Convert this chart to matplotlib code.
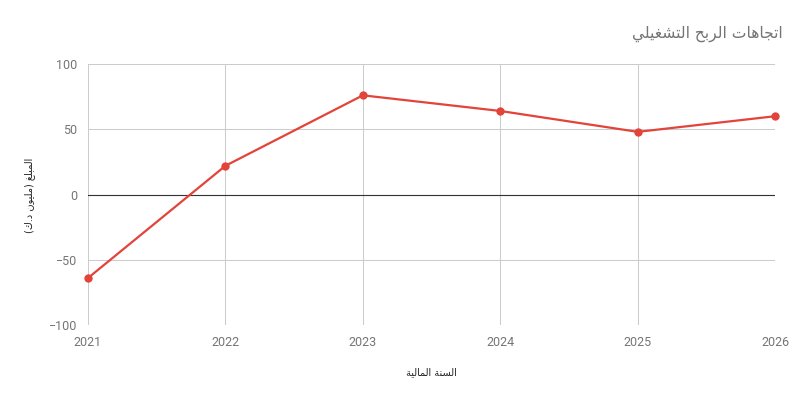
import matplotlib
matplotlib.use("Agg")
import matplotlib.pyplot as plt

years = [2021, 2022, 2023, 2024, 2025, 2026]
profit = [-64, 22, 76, 64, 48, 60]
y_ticks = [-100, -50, 0, 50, 100]
title_text = "اتجاهات الربح التشغيلي"
xlabel_text = "السنة المالية"
ylabel_text = "المبلغ (مليون د.ك)"

# --- minimal Arabic shaping (presentation forms) ---
DUAL = {
    'ب': 0xFE8F, 'ت': 0xFE95, 'ث': 0xFE99, 'ج': 0xFE9D, 'ح': 0xFEA1, 'خ': 0xFEA5,
    'س': 0xFEB1, 'ش': 0xFEB5, 'ص': 0xFEB9, 'ض': 0xFEBD, 'ط': 0xFEC1, 'ظ': 0xFEC5,
    'ع': 0xFEC9, 'غ': 0xFECD, 'ف': 0xFED1, 'ق': 0xFED5, 'ك': 0xFED9, 'ل': 0xFEDD,
    'م': 0xFEE1, 'ن': 0xFEE5, 'ه': 0xFEE9, 'ي': 0xFEF1,
}
RIGHT = {
    'ا': 0xFE8D, 'أ': 0xFE83, 'إ': 0xFE87, 'آ': 0xFE81, 'ة': 0xFE93, 'د': 0xFEA9,
    'ذ': 0xFEAB, 'ر': 0xFEAD, 'ز': 0xFEAF, 'و': 0xFEED, 'ى': 0xFEEF,
}
LAMALEF = {'ا': 0xFEFB, 'أ': 0xFEF7, 'إ': 0xFEF9, 'آ': 0xFEF5}


def is_ar(c):
    return c in DUAL or c in RIGHT


def shape(text):
    out = []
    i = 0
    n = len(text)
    while i < n:
        c = text[i]
        if not is_ar(c):
            out.append(c)
            i += 1
            continue
        prev_join = i > 0 and text[i - 1] in DUAL
        if c == 'ل' and i + 1 < n and text[i + 1] in LAMALEF:
            base = LAMALEF[text[i + 1]]
            out.append(chr(base + (1 if prev_join else 0)))
            i += 2
            continue
        next_join = c in DUAL and i + 1 < n and is_ar(text[i + 1])
        if c in DUAL:
            b = DUAL[c]
            if prev_join and next_join:
                g = b + 3
            elif prev_join:
                g = b + 1
            elif next_join:
                g = b + 2
            else:
                g = b
        else:
            b = RIGHT[c]
            g = b + 1 if prev_join else b
        out.append(chr(g))
        i += 1
    vis = out[::-1]
    swap = {'(': ')', ')': '('}
    return ''.join(swap.get(ch, ch) for ch in vis)


plt.rcParams['font.family'] = ['Roboto', 'DejaVu Sans']

fig = plt.figure(figsize=(8, 4), dpi=100)
ax = fig.add_axes([0.11, 0.1875, 0.859, 0.6525])

line_color = '#e2443a'
grid_color = '#cccccc'
text_color = '#757575'

ax.plot(years, profit, color=line_color, lw=1.6, marker='o', ms=6,
        markeredgewidth=0, zorder=3, clip_on=False)
ax.axhline(0, color='#333333', lw=0.8, zorder=2)

ax.set_xlim(years[0], years[-1])
ax.set_ylim(-100, 100)
ax.set_yticks(y_ticks)
ax.set_xticks(years)
ax.set_xticklabels([str(y) for y in years])
ax.grid(True, color=grid_color, lw=0.75, zorder=1)
for s in ax.spines.values():
    s.set_visible(False)
ax.tick_params(length=0, colors=text_color, labelsize=9, pad=8)
ax.tick_params(axis='x', pad=8)

fig.text(0.978, 0.915, shape(title_text), ha='right', va='center',
         fontsize=11.2, color=text_color, family=['DejaVu Sans'])
fig.text(0.539, 0.07, shape(xlabel_text), ha='center', va='center',
         fontsize=7, color='#222222', family=['DejaVu Sans'])
fig.text(0.037, 0.5125, shape(ylabel_text), ha='center', va='center',
         rotation=90, fontsize=7, color='#222222', family=['DejaVu Sans'])

fig.savefig('out.png', dpi=100)
